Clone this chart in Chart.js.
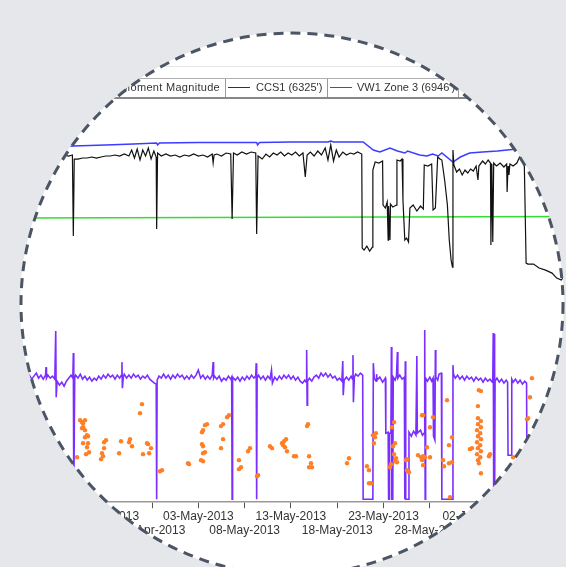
<!DOCTYPE html>
<html>
<head>
<meta charset="utf-8">
<script src="https://cdn.jsdelivr.net/npm/chart.js@4.4.1/dist/chart.umd.min.js"></script>
<style>
  html, body { margin: 0; padding: 0; width: 566px; height: 567px; overflow: hidden; background: #e5e7eb; }
  #lens { position: absolute; left: 20px; top: 32px; width: 544px; height: 544px; border-radius: 50%; overflow: hidden; background: #fff; }
  #page { position: absolute; left: -20px; top: -32px; width: 600px; height: 567px; }
  #page canvas { position: absolute; left: 0; top: 0; }
  .abs { position: absolute; }
  .txt { font: 11px 'Liberation Sans', Arial, sans-serif; color: #333; line-height: 17px; top: 79px; white-space: nowrap; }
  #ring { position: absolute; left: 0; top: 0; }
</style>
</head>
<body>
<div id="lens">
  <div id="page">
    <canvas id="chart" width="600" height="567"></canvas>
    <div class="abs" style="left:0;top:66px;width:600px;height:1px;background:#e6e6e6"></div>
    <div class="abs" style="left:40px;top:78px;width:480px;height:18px;border-top:1px solid #b0b0b0;border-bottom:2px solid #888"></div>
    <div class="abs" style="left:225px;top:79px;width:1px;height:18px;background:#999"></div>
    <div class="abs" style="left:327px;top:79px;width:1px;height:18px;background:#999"></div>
    <div class="abs" style="left:458px;top:79px;width:1px;height:18px;background:#999"></div>
    <div class="abs" style="left:102px;top:85px;width:5px;height:5px;border-radius:50%;background:#ff7f27"></div>
    <div class="abs txt" style="left:60px;width:160px;text-align:right;letter-spacing:0.3px">Moment Magnitude</div>
    <div class="abs" style="left:228px;top:87px;width:22px;height:1px;background:#333"></div>
    <div class="abs txt" style="left:256px">CCS1 (6325')</div>
    <div class="abs" style="left:330px;top:87px;width:22px;height:1px;background:#4040ff"></div>
    <div class="abs txt" style="left:357px">VW1 Zone 3 (6946')</div>
  </div>
</div>
<svg id="ring" width="566" height="567">
  <circle cx="292" cy="304" r="271" fill="none" stroke="#4b5563" stroke-width="3" stroke-dasharray="10 7"/>
</svg>
<script>
// days counted from 23-Apr-2013
const tickDays = [-5, 0, 5, 10, 15, 20, 25, 30, 35, 40, 45];
const tickLabels = ['18-Apr-2013', '23-Apr-2013', '28-Apr-2013', '03-May-2013', '08-May-2013', '13-May-2013',
  '18-May-2013', '23-May-2013', '28-May-2013', '02-Jun-2013', '07-Jun-2013'];

// upper panel
const vw1Zone3 = [[-10,150],[-7,152],[-3.5,154],[0,155],[3,156],[5.5,157],[5.6,155],[5.8,157],[10,157.5],[16.3,157.5],
  [16.4,155],[16.6,157.5],[20,158],[24,158],[24.3,159],[24.6,158],[27.8,158],[28.9,150],[29.6,148],[30.7,152],
  [31.5,149],[32.3,147],[32.6,149],[33.9,145],[34.7,144],[35.3,146],[35.9,144],[36.3,147],[37.5,138],[38.3,143],
  [39.3,147],[40.7,148],[42.3,149],[44.4,151],[46.9,152],[50,152]];

const greenLine = [[-10,82],[50,83.5]];

const ccs1 = [[-10,143],[-8,143],[-6,144],[-4.5,145],[-4,144],[-3.6,145],[-3.5,64],[-3.4,141],[-3,141],[-2.5,142],
  [-2,142],[-1.5,143],[-1,142],[-0.5,143],[0,144],[0.5,144],[1,145],[1.5,144],[2,146],[2.5,144],[2.8,150],[3.1,142],
  [3.4,151],[3.7,140],[4,150],[4.3,144],[4.6,152],[4.9,141],[5.2,149],[5.45,143],[5.5,71],[5.6,147],[6,144],
  [6.5,146],[7,144],[7.5,145],[8,143],[8.5,145],[9,144],[9.5,146],[10,144],[10.5,145],[11,143],[11.5,146],
  [11.6,137],[11.7,145],[12,146],[12.5,144],[13,147],[13.5,146],[13.65,81],[13.8,147],[14.2,145],[14.7,148],
  [15.2,146],[15.7,148],[16.2,147],[16.3,66],[16.45,144],[16.9,141],[17.3,146],[17.7,143],[18.1,147],[18.5,145],
  [18.9,148],[19.3,144],[19.7,147],[20.1,145],[20.5,148],[20.9,144],[21.3,147],[21.55,123],[21.75,145],[22.1,148],
  [22.5,144],[22.9,149],[23.3,145],[23.7,152],[24,140],[24.3,155],[24.6,139],[24.9,150],[25.2,143],[25.6,148],
  [26,145],[26.4,147],[26.8,146],[27.2,148],[27.65,146],[27.7,52],[27.9,50],[28.2,54],[28.5,49],[28.8,53],
  [28.85,130],[29.1,138],[29.5,137],[29.9,139],[29.95,95],[30.2,92],[30.4,98],[30.5,60],[30.55,94],[30.7,60],
  [30.75,96],[31,93],[31.4,95],[31.45,140],[31.8,139],[32,141],[32.1,100],[32.3,60],[32.5,62],[32.7,58],
  [32.85,92],[33.2,95],[33.6,89],[34,94],[34.3,91],[34.4,135],[34.8,134],[35.2,136],[35.35,90],[35.6,92],
  [35.85,143],[36.1,141],[36.3,140],[36.6,120],[36.9,95],[37.1,60],[37.3,40],[37.45,33],[37.5,150],[37.6,135],
  [37.9,128],[38.2,131],[38.5,125],[38.8,130],[39.1,127],[39.4,131],[39.7,129],[40,134],[40.2,120],[40.3,134],
  [40.7,139],[41,136],[41.3,140],[41.55,137],[41.6,55],[41.7,136],[41.8,58],[41.9,137],[42.2,134],[42.6,137],
  [43,133],[43.3,136],[43.35,108],[43.45,134],[43.55,125],[43.65,136],[44,134],[44.4,137],[44.7,143],[45,142],
  [45.2,139],[45.4,37],[45.6,36],[46.2,36],[46.8,32],[47.5,30],[48.2,27],[48.7,22],[49.2,20],[49.5,24],[50,24]];

// lower panel
const lowerTrace = [[-10,125],[-9.75,128],[-9.5,123],[-9.25,127],[-9,124],[-8.75,128],[-8.5,124],[-8.25,127],
  [-8,123],[-7.75,126],[-7.5,129],[-7.25,124],[-7,127],[-6.75,123],[-6.5,127],[-6.45,135],[-6.4,124],[-6.25,127],
  [-6,124],[-5.75,126],[-5.5,123],[-5.4,171],[-5.35,105],[-5.25,121],[-5,117],[-4.75,120],[-4.5,116],[-4.25,121],
  [-4,124],[-3.75,127],[-3.55,124],[-3.5,149],[-3.45,3],[-3.35,124],[-3.25,127],[-3,124],[-2.75,128],[-2.5,123],
  [-2.25,126],[-2,122],[-1.75,125],[-1.5,121],[-1.25,124],[-1,122],[-0.75,126],[-0.5,123],[-0.25,127],[0,124],
  [0.25,128],[0.5,125],[0.75,127],[1,123],[1.25,127],[1.5,124],[1.7,127],[1.75,140],[1.8,114],[1.9,125],[2,128],
  [2.25,124],[2.5,127],[2.75,124],[3,128],[3.25,125],[3.5,127],[3.75,123],[4,126],[4.25,124],[4.5,127],[4.75,123],
  [5,121],[5.25,119],[5.45,118],[5.5,3],[5.55,122],[5.75,126],[6,124],[6.25,128],[6.5,124],[6.75,127],[7,123],
  [7.25,127],[7.5,124],[7.75,128],[8,125],[8.25,127],[8.5,123],[8.75,126],[9,123],[9.25,127],[9.5,124],[9.75,127],
  [10,132],[10.25,124],[10.5,127],[10.75,123],[11,126],[11.25,123],[11.5,127],[11.6,140],[11.65,124],[11.75,126],
  [12,123],[12.25,126],[12.5,121],[12.75,124],[13,122],[13.25,126],[13.5,123],[13.6,125],[13.65,3],[13.7,125],
  [14,122],[14.25,125],[14.5,121],[14.75,125],[15,122],[15.25,126],[15.5,123],[15.75,127],[16,124],[16.2,126],
  [16.25,139],[16.3,3],[16.35,124],[16.5,127],[16.75,123],[17,126],[17.25,122],[17.5,126],[17.75,123],[17.9,132],
  [18,119],[18.25,125],[18.5,122],[18.75,126],[19,123],[19.25,127],[19.5,124],[19.75,127],[20,123],[20.25,126],
  [20.5,122],[20.75,125],[21,121],[21.25,119],[21.5,122],[21.65,120],[21.7,152],[21.75,97],[21.8,121],[22,124],
  [22.25,121],[22.5,125],[22.75,127],[23,124],[23.25,129],[23.5,126],[23.75,129],[24,125],[24.25,128],[24.5,124],
  [24.75,126],[25,122],[25.25,124],[25.5,121],[25.6,141],[25.65,107],[25.75,122],[26,125],[26.25,122],[26.5,126],
  [26.65,123],[26.7,147],[26.75,100],[26.85,125],[27,128],[27.25,126],[27.5,129],[27.75,127],[27.8,3],[28.85,3],
  [28.9,139],[29,124],[29.2,121],[29.25,128],[29.3,122],[29.6,125],[29.9,120],[30.2,124],[30.25,69],[30.5,70],
  [30.55,3],[30.6,3],[30.65,68],[30.8,70],[30.85,155],[30.9,3],[31,3],[31.05,125],[31.25,122],[31.4,126],
  [31.5,150],[31.55,124],[31.75,127],[32,123],[32.25,125],[32.3,3],[32.35,141],[32.4,3],[32.7,3],[32.75,70],
  [33,66],[33.25,71],[33.5,67],[33.6,146],[33.65,69],[34,72],[34.2,67],[34.4,69],[34.45,172],[34.5,3],[34.55,124],
  [34.75,121],[35,125],[35.2,121],[35.35,124],[35.4,66],[35.55,62],[35.6,152],[35.65,125],[35.85,122],[36,128],
  [36.25,129],[36.3,3],[37.45,3],[37.5,137],[37.55,128],[37.75,124],[38,127],[38.25,123],[38.5,126],[38.75,122],
  [39,126],[39.25,123],[39.5,125],[39.75,121],[40,125],[40.25,122],[40.5,124],[40.75,120],[41,124],[41.25,121],
  [41.5,123],[41.75,120],[41.8,122],[41.85,169],[41.9,3],[41.95,168],[42,3],[42.05,121],[42.25,124],[42.5,120],
  [42.75,123],[43,119],[43.25,122],[43.4,120],[43.45,47],[43.8,47],[43.85,123],[44,120],[44.25,123],[44.5,119],
  [44.75,122],[45,118],[45.25,121],[45.45,119],[45.5,3],[50,3]];

const momentMagnitude = [[-2.77,-2.163],[-2.56,-2.184],[-2.45,-2.194],[-2.24,-2.163],[-2.45,-2.235],[-2.56,-2.245],
  [-2.24,-2.265],[-2.02,-2.316],[-2.24,-2.337],[-1.91,-2.327],[-2.45,-2.398],[-1.91,-2.398],[-2.02,-2.439],
  [-1.8,-2.49],[-2.13,-2.51],[-3.1,-2.541],[-0.4,-2.5],[-0.29,-2.531],[-0.51,-2.561],[-0.18,-2.449],[0.03,-2.367],
  [-0.18,-2.388],[1.44,-2.5],[1.65,-2.378],[2.62,-2.357],[2.52,-2.388],[2.84,-2.429],[3.7,-2.092],[3.92,-2.0],
  [4.46,-2.398],[4.57,-2.408],[4.89,-2.449],[4.03,-2.51],[4.68,-2.5],[5.86,-2.684],[6.08,-2.673],[8.89,-2.602],
  [8.99,-2.612],[10.4,-2.286],[10.51,-2.265],[10.72,-2.214],[10.94,-2.204],[10.4,-2.408],[10.51,-2.429],
  [10.51,-2.5],[10.72,-2.49],[10.29,-2.571],[10.51,-2.582],[12.45,-2.224],[12.67,-2.204],[13.1,-2.133],
  [13.31,-2.112],[12.67,-2.357],[12.45,-2.449],[14.39,-2.571],[14.61,-2.643],[14.39,-2.663],[15.58,-2.449],
  [15.37,-2.48],[16.45,-2.724],[16.34,-2.735],[17.74,-2.429],[17.96,-2.449],[19.04,-2.398],[19.25,-2.378],
  [19.47,-2.357],[19.15,-2.418],[19.36,-2.439],[19.58,-2.48],[20.33,-2.531],[20.55,-2.531],[21.74,-2.224],
  [21.85,-2.204],[21.96,-2.531],[22.17,-2.602],[21.96,-2.643],[22.28,-2.643],[26.06,-2.602],[26.27,-2.551],
  [28.21,-2.633],[28.43,-2.673],[28.43,-2.806],[28.65,-2.806],[28.86,-2.316],[29.19,-2.296],[29.08,-2.337],
  [28.97,-2.398],[30.7,-2.643],[30.81,-2.612],[30.92,-2.235],[31.13,-2.184],[31.03,-2.429],[31.24,-2.398],
  [31.13,-2.51],[31.35,-2.551],[31.46,-2.592],[31.24,-2.582],[32.43,-2.571],[32.54,-2.561],[32.54,-2.673],
  [32.75,-2.694],[33.73,-2.52],[34.05,-2.541],[34.27,-2.531],[34.16,-2.571],[34.27,-2.622],[34.16,-2.112],
  [34.27,-2.112],[34.48,-2.541],[34.7,-2.439],[35.02,-2.541],[35.02,-2.235],[35.35,-2.133],[36.86,-1.959],
  [36.43,-2.571],[36.54,-2.633],[37.07,-2.602],[37.4,-2.592],[37.07,-2.418],[37.4,-2.337],[37.18,-2.949],
  [40.2,-2.143],[40.52,-2.173],[40.2,-2.204],[40.52,-2.235],[40.1,-2.265],[40.45,-2.296],[40.2,-2.327],
  [40.52,-2.357],[40.1,-2.388],[40.45,-2.418],[40.2,-2.449],[40.52,-2.48],[40.1,-2.51],[40.45,-2.541],
  [40.2,-2.571],[40.3,-2.602],[40.2,-2.02],[40.52,-1.867],[40.3,-1.857],[40.52,-2.704],[39.55,-2.449],
  [39.33,-2.459],[41.39,-2.531],[41.5,-2.51],[43.99,-2.541],[46.03,-1.735],[45.82,-1.929],[45.61,-2.143],
  [45.5,-2.153]];

Chart.defaults.font.family = "'Liberation Sans', Arial, sans-serif";

const ctx = document.getElementById('chart').getContext('2d');
new Chart(ctx, {
  type: 'line',
  data: {
    datasets: [
      { type: 'scatter', label: 'Moment Magnitude', data: momentMagnitude, yAxisID: 'yMag',
        pointRadius: 2.2, pointBackgroundColor: '#ff7f27', pointBorderWidth: 0 },
      { label: "CCS1 (6325')", data: ccs1, yAxisID: 'yTop', borderColor: '#111', borderWidth: 1.2, pointRadius: 0 },
      { label: "VW1 Zone 3 (6946')", data: vw1Zone3, yAxisID: 'yTop', borderColor: '#3c3cff', borderWidth: 1.5, pointRadius: 0 },
      { label: 'green', data: greenLine, yAxisID: 'yTop', borderColor: '#33dd33', borderWidth: 1.5, pointRadius: 0 },
      { label: 'lower', data: lowerTrace, yAxisID: 'yBottom', borderColor: '#7b2fff', borderWidth: 1.6, pointRadius: 0 }
    ]
  },
  options: {
    responsive: false,
    animation: false,
    layout: { padding: { left: 22.4, right: 31.3, top: 110, bottom: 28 } },
    plugins: { legend: { display: false }, tooltip: { enabled: false } },
    scales: {
      x: {
        type: 'linear', min: -9, max: 50,
        afterBuildTicks: (axis) => { axis.ticks = tickDays.map(v => ({ value: v })); },
        grid: { drawOnChartArea: false, tickLength: 6, color: '#555' },
        border: { color: '#999', width: 1.5 },
        ticks: {
          autoSkip: false, maxRotation: 0, padding: 1, color: '#333', font: { size: 12 },
          callback: (v) => {
            const i = tickDays.indexOf(v);
            if (i < 0) return '';
            return i % 2 ? [tickLabels[i], ''] : ['', tickLabels[i]];
          }
        }
      },
      yTop: { type: 'linear', position: 'left', stack: 'panels', stackWeight: 190, weight: 2, min: 0, max: 190, display: false },
      yBottom: { type: 'linear', position: 'left', stack: 'panels', stackWeight: 202, weight: 1, min: 0, max: 202, display: false },
      yMag: { type: 'linear', position: 'right', min: -3, max: 1, display: false }
    }
  }
});
</script>
</body>
</html>
